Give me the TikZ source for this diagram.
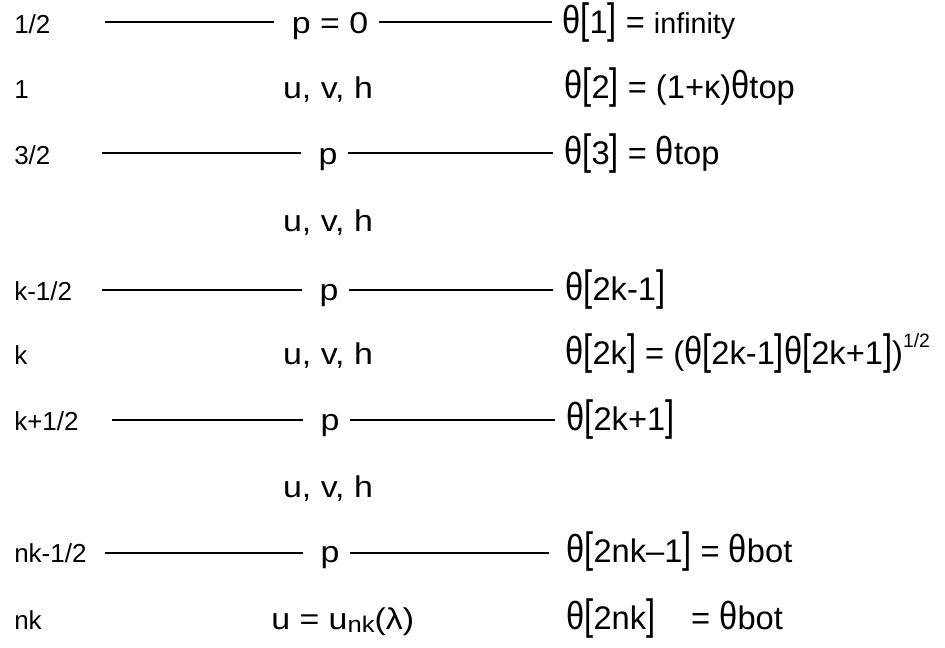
\documentclass[tikz,border=0pt]{standalone}
\usepackage{fontspec}
\setmainfont{Liberation Sans}
\usepackage{graphicx}
\newcommand\hwide[1]{\scalebox{1.13}[1]{#1}}
\newcommand\thh{\scalebox{1}[1.2]{θ}}
\newcommand\lbk{\scalebox{1}[1.3]{[}}
\newcommand\rbk{\scalebox{1}[1.3]{]}}
\newcommand\supfrac{\raisebox{0.5em}{\fontsize{14.5}{16}\selectfont 1/2}}
\tikzset{
  lbl/.style={anchor=base west, inner sep=0pt, font=\fontsize{19.5}{22}\selectfont},
  mid/.style={anchor=base, inner sep=0pt, font=\fontsize{22.5}{26}\selectfont},
  midw/.style={anchor=base west, inner sep=0pt, font=\fontsize{22.5}{26}\selectfont},
  rhs/.style={anchor=base west, inner sep=0pt, font=\fontsize{24.5}{28}\selectfont},
  rule/.style={line width=2.1pt},
  lrule/.style={rule, shorten >=13pt},
  rrule/.style={rule, shorten <=8pt},
}
\begin{document}
\begin{tikzpicture}[x=0.75pt,y=-0.75pt]
\useasboundingbox (0,0) rectangle (945,647);
% row 1/2
\node[lbl] (l1) at (14,33) {1/2};
\node[mid] (p1) at (330,33) {\hwide{p = 0}};
\node[rhs] (t1) at (562,33) {\thh\lbk 1\rbk{} = {\fontsize{21.5}{24}\selectfont infinity}};
\coordinate (s1) at (105,22);
\coordinate (e1) at (552,22);
\draw[lrule] (s1) -- (p1.west |- s1);
\draw[rrule] (p1.east |- s1) -- (e1);
% row 1
\node[lbl] (l2) at (14,98) {1};
\node[mid] (m2) at (328,98) {\hwide{u, v, h}};
\node[rhs] (t2) at (564,98) {\thh\lbk 2\rbk{} = (1+κ)\thh top};
% row 3/2
\node[lbl] (l3) at (14,164) {3/2};
\node[mid] (p3) at (328,164) {\hwide{p}};
\node[rhs] (t3) at (564,164) {\thh\lbk 3\rbk{} = \thh top};
\coordinate (s3) at (102,153);
\coordinate (e3) at (553,153);
\draw[lrule] (s3) -- (p3.west |- s3);
\draw[rrule] (p3.east |- s3) -- (e3);
% row u,v,h
\node[mid] (m4) at (328,231) {\hwide{u, v, h}};
% row k-1/2
\node[lbl] (l5) at (14,300) {k-1/2};
\node[mid] (p5) at (329,300) {\hwide{p}};
\node[rhs] (t5) at (565,300) {\thh\lbk 2k-1\rbk};
\coordinate (s5) at (102,290);
\coordinate (e5) at (553,290);
\draw[lrule] (s5) -- (p5.west |- s5);
\draw[rrule] (p5.east |- s5) -- (e5);
% row k
\node[lbl] (l6) at (14,364) {k};
\node[mid] (m6) at (328,364) {\hwide{u, v, h}};
\node[rhs] (t6) at (565,364) {\thh\lbk 2k\rbk{} = (\thh\lbk 2k-1\rbk\thh\lbk 2k+1\rbk)\supfrac};
% row k+1/2
\node[lbl] (l7) at (14,430) {k+1/2};
\node[mid] (p7) at (330,430) {\hwide{p}};
\node[rhs] (t7) at (566,430) {\thh\lbk 2k+1\rbk};
\coordinate (s7) at (112,420);
\coordinate (e7) at (555,420);
\draw[lrule] (s7) -- (p7.west |- s7);
\draw[rrule] (p7.east |- s7) -- (e7);
% row u,v,h
\node[mid] (m8) at (328,497) {\hwide{u, v, h}};
% row nk-1/2
\node[lbl] (l9) at (14,562) {nk-1/2};
\node[mid] (p9) at (330,562) {\hwide{p}};
\node[rhs] (t9) at (566,562) {\thh\lbk 2nk–1\rbk{} = \thh bot};
\coordinate (s9) at (105,553);
\coordinate (e9) at (549,553);
\draw[lrule] (s9) -- (p9.west |- s9);
\draw[rrule] (p9.east |- s9) -- (e9);
% row nk
\node[lbl] (l10) at (14,629) {nk};
\node[midw] (m10) at (271,629) {\hwide{u = u\raisebox{-0.12em}{\fontsize{17}{18}\selectfont nk}(λ)}};
\node[rhs] (t10) at (566,629) {\thh\lbk 2nk\rbk\hspace{1.1em}= \thh bot};
\end{tikzpicture}
\end{document}
